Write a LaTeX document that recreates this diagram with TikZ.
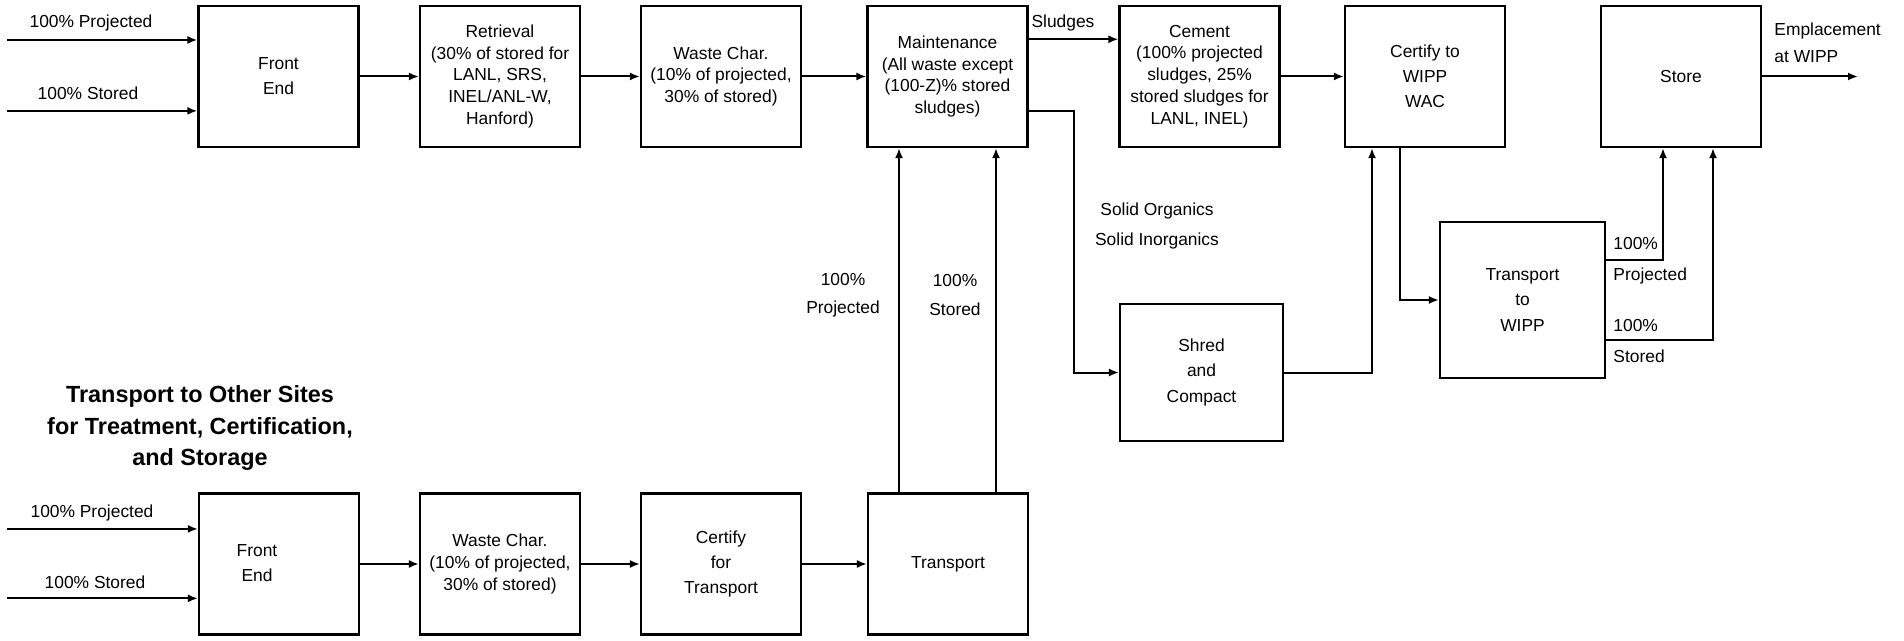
\documentclass[tikz,border=0pt]{standalone}
\usepackage{fontspec}
\setmainfont{Liberation Sans}
\usetikzlibrary{arrows.meta,positioning,calc}
\newcommand{\wipTightFont}{\fontsize{8.7}{10.9}\selectfont}
\newcommand{\wipLooseFont}{\fontsize{8.7}{12.6}\selectfont}
\newcommand{\wipTitleFont}{\fontsize{11.7}{15.8}\selectfont\bfseries}
\tikzset{
    wipBox/.style={
        rectangle,
        draw,
        line width=1.1pt,
        minimum width=80pt,
        minimum height=70.5pt,
        align=center,
        inner sep=2pt,
        font=\wipTightFont
    },
    wipLooseBox/.style={wipBox, font=\wipLooseFont},
    % Connectors and free text
    wipArrow/.style={-{Latex[length=5pt,width=4pt]}, line width=1pt},
    wipLabel/.style={font=\wipLooseFont, align=center, inner sep=1pt},
    wipTitle/.style={font=\wipTitleFont, align=center}
}

\begin{document}
\begin{tikzpicture}[x=0.5pt, y=-0.5pt]
\useasboundingbox (0,0) rectangle (1904,641);

% Main line
\node[wipLooseBox] (fe) at (278.5,76.5) {Front\\End};
\node[wipBox] (ret) at (500,76.5) {Retrieval\\(30\% of stored for\\LANL, SRS,\\INEL/ANL-W,\\Hanford)};
\node[wipBox] (wc) at (721,76.5) {Waste Char.\\(10\% of projected,\\30\% of stored)};
\node[wipBox] (mnt) at (947.5,76.5) {Maintenance\\(All waste except\\(100-Z)\% stored\\sludges)};
\node[wipBox] (cem) at (1199.5,76.5) {Cement\\(100\% projected\\sludges, 25\%\\stored sludges for\\LANL, INEL)};
\node[wipLooseBox] (cert) at (1425,76.5) {Certify to\\WIPP\\WAC};
\node[wipLooseBox] (sto) at (1681,76.5) {Store};
\node[wipLooseBox, minimum width=81.5pt, minimum height=68.5pt] (shr) at (1201.5,372.5) {Shred\\and\\Compact};
\node[wipLooseBox, minimum width=82.5pt, minimum height=78pt] (tw) at (1522.5,300) {Transport\\to\\WIPP};

\coordinate (feP) at ($(fe.north west)!0.245!(fe.south west)$);
\coordinate (feS) at ($(fe.north west)!0.74!(fe.south west)$);
\coordinate (inX) at (7,0);
\draw[wipArrow] (feP -| inX) -- (feP);
\draw[wipArrow] (feS -| inX) -- (feS);
\node[wipLabel] (feLblP) at (91,23) {100\% Projected};
\node[wipLabel] (feLblS) at (88,93) {100\% Stored};

\draw[wipArrow] (fe) -- (ret);
\draw[wipArrow] (ret) -- (wc);
\draw[wipArrow] (wc) -- (mnt);

% Sludges to cement
\coordinate (mntHi) at ($(mnt.north east)!0.24!(mnt.south east)$);
\draw[wipArrow] (mntHi) -- (mntHi -| cem.west);
\node[wipLabel] (sludgeLbl) at (1063,23) {Sludges};
\draw[wipArrow] (cem) -- (cert);

% Solids to shred and compact
\coordinate (mntLo) at ($(mnt.north east)!0.74!(mnt.south east)$);
\coordinate (dropX) at (1074,0);
\draw[wipArrow] (mntLo) -- (mntLo -| dropX) |- (shr.west);
\node[wipLabel] (solidLbl) at (1157,226) {Solid Organics\\[2pt]Solid Inorganics};
\coordinate (riseX) at (1372,0);
\draw[wipArrow] (shr.east) -| (cert.south -| riseX);

% Certified waste to WIPP
\coordinate (fallX) at (1400,0);
\draw[wipArrow] (cert.south -| fallX) |- (tw.west);
\coordinate (twP) at ($(tw.north east)!0.245!(tw.south east)$);
\coordinate (twS) at ($(tw.north east)!0.756!(tw.south east)$);
\coordinate (stoP) at (1663,0);
\coordinate (stoS) at (1713,0);
\draw[wipArrow] (twP) -| (sto.south -| stoP);
\draw[wipArrow] (twS) -| (sto.south -| stoS);
\node[wipLabel, anchor=west, align=left] (twLblP) at (1611,261) {100\%\\[3pt]Projected};
\node[wipLabel, anchor=west, align=left] (twLblS) at (1611,341) {100\%\\[3pt]Stored};
\coordinate (emp) at (1858,76.5);
\draw[wipArrow] (sto.east) -- (emp);
\node[wipLabel, anchor=west, align=left] (empLbl) at (1772,43) {Emplacement\\[1pt]at WIPP};

% Other sites
\node[wipTitle] (title) at (200,428) {Transport to Other Sites\\for Treatment, Certification,\\and Storage};
\node[wipLooseBox] (fe2) at (279,564) {};
\node[wipLabel] (fe2Txt) at ($(fe2)+(-22,-1)$) {Front\\End};
\node[wipBox] (wc2) at (500,564) {Waste Char.\\(10\% of projected,\\30\% of stored)};
\node[wipLooseBox] (cft) at (721,564) {Certify\\for\\Transport};
\node[wipLooseBox] (trn) at (948,564) {Transport};

\coordinate (fe2P) at ($(fe2.north west)!0.255!(fe2.south west)$);
\coordinate (fe2S) at ($(fe2.north west)!0.74!(fe2.south west)$);
\draw[wipArrow] (fe2P -| inX) -- (fe2P);
\draw[wipArrow] (fe2S -| inX) -- (fe2S);
\node[wipLabel] (fe2LblP) at (92,513) {100\% Projected};
\node[wipLabel] (fe2LblS) at (95,582) {100\% Stored};

\draw[wipArrow] (fe2) -- (wc2);
\draw[wipArrow] (wc2) -- (cft);
\draw[wipArrow] (cft) -- (trn);

\coordinate (riseP) at (899,0);
\coordinate (riseS) at (996,0);
\draw[wipArrow] (trn.north -| riseP) -- (mnt.south -| riseP);
\draw[wipArrow] (trn.north -| riseS) -- (mnt.south -| riseS);
\node[wipLabel] (riseLblP) at (843,295) {100\%\\[1.5pt]Projected};
\node[wipLabel] (riseLblS) at (955,295) {100\%\\[1.5pt]Stored};
\end{tikzpicture}
\end{document}
